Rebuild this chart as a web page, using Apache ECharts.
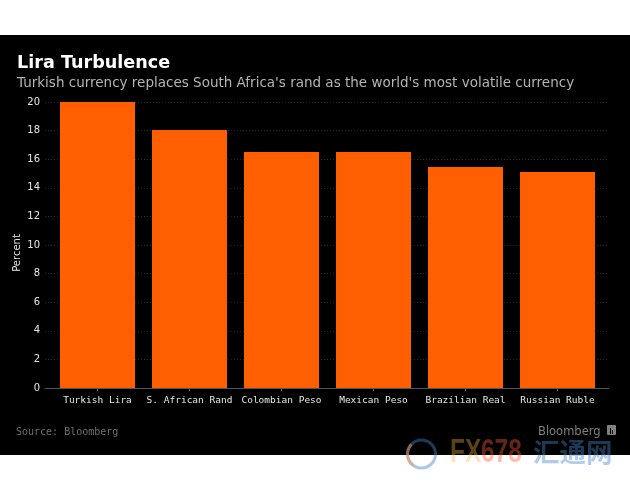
<!DOCTYPE html>
<html>
<head>
<meta charset="utf-8">
<style>
  html, body { margin: 0; padding: 0; background: #fff; }
  #main { width: 630px; height: 490px; }
</style>
<script src="https://cdn.jsdelivr.net/npm/echarts@6/dist/echarts.min.js"></script>
</head>
<body>
<div id="main"></div>
<script>
var currencies = ["Turkish Lira", "S. African Rand", "Colombian Peso", "Mexican Peso", "Brazilian Real", "Russian Ruble"];
var volatility = [20, 18.05, 16.5, 16.5, 15.45, 15.1];
var yTicks = { min: 0, max: 20, interval: 2 };

var titleText = "Lira Turbulence";
var subtitleText = "Turkish currency replaces South Africa's rand as the world's most volatile currency";
var sourceText = "Source: Bloomberg";

var sans = "DejaVu Sans";
var mono = "DejaVu Sans Mono";

var mycharts = echarts.init(document.getElementById("main"), null, { renderer: "canvas" });

var option = {
    animation: false,
    backgroundColor: "#fff",
    // first grid carries the long gridlines and axis line, second one the bars
    grid: [
        { left: 45, right: 21.5, top: 102, bottom: 102 },
        { left: 51.5, right: 26.5, top: 102, bottom: 102 }
    ],
    xAxis: [
        {
            gridIndex: 0, type: "value", min: 0, max: 1,
            axisLine: { show: true, onZero: false, lineStyle: { color: "#4a5560", width: 1 } },
            axisTick: { show: false }, axisLabel: { show: false }, splitLine: { show: false }
        },
        {
            gridIndex: 1, type: "category", data: currencies,
            axisLine: { show: false },
            axisTick: { show: true, alignWithLabel: true, length: 3, lineStyle: { color: "#4a5560" } },
            axisLabel: { color: "#e6e6e6", fontFamily: mono, fontSize: 9.5, margin: 8, interval: 0 }
        }
    ],
    yAxis: [
        {
            gridIndex: 0, type: "value", min: yTicks.min, max: yTicks.max, interval: yTicks.interval,
            name: "Percent", nameLocation: "middle", nameGap: 23, nameMoveOverlap: false,
            nameTextStyle: { color: "#e6e6e6", fontFamily: sans, fontSize: 10, padding: [0, 16, 0, 0] },
            axisLine: { show: false }, axisTick: { show: false },
            axisLabel: { color: "#e6e6e6", fontFamily: sans, fontSize: 10, margin: 5, padding: [2, 0, 0, 0] },
            splitLine: { show: true, lineStyle: { color: "#262626", type: [1, 2], width: 1 } }
        },
        {
            gridIndex: 1, type: "value", min: yTicks.min, max: yTicks.max, interval: yTicks.interval,
            show: false
        }
    ],
    series: [
        {
            type: "bar", xAxisIndex: 1, yAxisIndex: 1, data: volatility,
            barWidth: 75, z: 3,
            itemStyle: { color: "#ff5f00" }
        }
    ],
    graphic: [
        { type: "rect", z: -10, shape: { x: 0, y: 35, width: 630, height: 420 }, style: { fill: "#000" } },
        { type: "text", z: 5, left: 17, top: 54, style: { text: titleText, fill: "#fff", font: "bold 17.6px " + sans } },
        { type: "text", z: 5, left: 17, top: 76, style: { text: subtitleText, fill: "#b4b4b4", font: "13.5px " + sans } },
        { type: "text", z: 5, left: 16, top: 427, style: { text: sourceText, fill: "#707070", font: "10px " + mono } },
        { type: "text", z: 5, left: 538, top: 426, style: { text: "Bloomberg", fill: "#808080", font: "11.5px " + sans } },
        { type: "rect", z: 5, shape: { x: 607, y: 425, width: 9, height: 10, r: 1 }, style: { fill: "#808080" } },
        { type: "rect", z: 6, shape: { x: 610, y: 428, width: 1, height: 6 }, style: { fill: "#000" } },
        { type: "rect", z: 6, shape: { x: 612, y: 430, width: 1, height: 4 }, style: { fill: "#000" } },
        // FX678 watermark across the lower edge
        { type: "circle", z: 6, shape: { cx: 421.5, cy: 454, r: 14 }, style: { fill: "none", stroke: "rgba(70,130,200,0.45)", lineWidth: 3 } },
        { type: "arc", z: 7, shape: { cx: 421.5, cy: 454, r: 14, startAngle: 2.2, endAngle: 3.9, clockwise: true }, style: { fill: "none", stroke: "rgba(255,150,60,0.5)", lineWidth: 3 } },
        { type: "text", z: 6, x: 450, y: 436, scaleX: 0.72, style: { text: "FX", fill: "rgba(255,180,70,0.36)", font: "bold 34px 'Liberation Sans'" } },
        { type: "text", z: 6, x: 481, y: 436, scaleX: 0.72, style: { text: "678", fill: "rgba(255,90,50,0.4)", font: "bold 34px 'Liberation Sans'" } },
        { type: "text", z: 6, left: 533, top: 439, style: { text: "汇通网", fill: "rgba(70,130,200,0.42)", font: "bold 26.5px 'Noto Sans CJK SC'" } }
    ]
};

mycharts.setOption(option);
</script>
</body>
</html>
